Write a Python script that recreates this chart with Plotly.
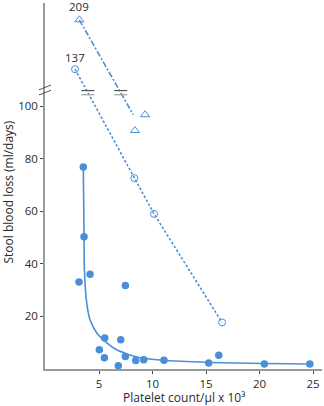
import numpy as np
import plotly.graph_objects as go

# ---------------- data ----------------
# filled dots (solid curve series)
dot_x = [3.53, 3.60, 3.13, 4.16, 7.46, 5.53, 7.03, 5.03, 5.50, 7.46, 6.80, 8.43, 9.18, 11.07, 15.25, 16.19, 20.45, 24.70]
dot_y = [76.8, 50.3, 33.1, 36.0, 31.8, 11.8, 11.1, 7.3, 4.3, 4.8, 1.25, 3.2, 3.5, 3.3, 2.3, 5.2, 1.9, 1.9]
# fitted hyperbolic curve
curve_x = [3.53, 3.60, 3.63, 3.85, 4.16, 4.79, 5.56, 6.65, 8.52, 11.0, 15.25, 20.45, 24.70]
curve_y = [76.8, 50.3, 37.8, 25.1, 18.7, 13.7, 10.5, 7.3, 4.6, 3.3, 2.5, 2.1, 1.9]
# open circles (dotted line)
circle_x = [2.76, 8.30, 10.14, 16.50]
circle_y = [137, 72.6, 59.0, 17.7]
# open triangles (dash-dot fit line)
tri_x = [3.16, 8.36, 9.30]
tri_y = [209, 90.7, 96.7]
tri_fit_x = [3.16, 8.20]
tri_fit_y = [209, 96.7]
x_ticks = [5, 10, 15, 20, 25]
y_ticks = [20, 40, 60, 80, 100]
labelled = [(circle_x[0], circle_y[0]), (tri_x[0], tri_y[0])]

# ---------------- broken-axis mapping ----------------
BREAK = 100
BREAK_MARK = 105.1


def disp(v):
    return v if v <= BREAK else BREAK + 44.5 * np.log(v / BREAK)


def dlist(vs):
    return [disp(v) for v in vs]


BLUE = "#4a8fd6"
TXT = "#2b2b2b"
FONT = "Open Sans"

L, R, T, B = 45, 2, 3, 37
W, H = 324, 406
XR = [-0.05, 25.84]
YR = [0, 139.2]

fig = go.Figure()

# solid fitted curve
fig.add_trace(go.Scatter(x=curve_x, y=curve_y, mode="lines",
                         line=dict(color=BLUE, width=1.6, shape="spline", smoothing=0.6),
                         hoverinfo="skip"))
# dotted circles
fig.add_trace(go.Scatter(x=circle_x, y=dlist(circle_y), mode="lines+markers",
                         line=dict(color=BLUE, width=1.6, dash="2.5px,2px"),
                         marker=dict(symbol="circle-open", size=7, color=BLUE, line=dict(width=1))))
# dash-dot fit line for triangles
fig.add_trace(go.Scatter(x=tri_fit_x, y=dlist(tri_fit_y), mode="lines",
                         line=dict(color=BLUE, width=1.6, dash="6px,2px,2px,2px")))
fig.add_trace(go.Scatter(x=tri_x, y=dlist(tri_y), mode="markers",
                         marker=dict(symbol="triangle-up-open", size=8, color=BLUE, line=dict(width=1))))
# filled dots
fig.add_trace(go.Scatter(x=dot_x, y=dot_y, mode="markers",
                         marker=dict(symbol="circle", size=7.5, color=BLUE, line=dict(width=0))))

# labels for off-scale values
for (lx, ly), ys in zip(labelled, [11.5, 13.5]):
    fig.add_annotation(x=lx, y=disp(ly), text=str(ly), showarrow=False, yshift=ys,
                       font=dict(family=FONT, size=11.5, color=TXT))


def cross_x(xs, ys, level):
    yd = dlist(ys)
    for i in range(len(xs) - 1):
        if (yd[i] - level) * (yd[i + 1] - level) <= 0:
            t = (yd[i] - level) / (yd[i] - yd[i + 1])
            return xs[i] + t * (xs[i + 1] - xs[i])
    return xs[0]


shapes = []
px_per_x = (W - L - R) / (XR[1] - XR[0])
# "=" break marks on the two lines
for cx in [cross_x(circle_x, circle_y, BREAK_MARK), cross_x(tri_fit_x, tri_fit_y, BREAK_MARK)]:
    hw = 6.5 / px_per_x
    shapes.append(dict(type="line", xref="x", yref="y", x0=cx - hw, x1=cx + hw,
                       y0=BREAK_MARK + 0.8, y1=BREAK_MARK + 0.8, line=dict(color="#555555", width=1.2)))
    shapes.append(dict(type="line", xref="x", yref="y", x0=cx - hw, x1=cx + hw,
                       y0=BREAK_MARK - 0.8, y1=BREAK_MARK - 0.8, line=dict(color="#a0a0a0", width=1.2)))


# "//" break mark on the y axis (paper coords)
def py(v):
    return (v - YR[0]) / (YR[1] - YR[0])


dxp = 6.0 / (W - L - R)
for off in [1.0, -1.0]:
    yc = BREAK_MARK + off + 1.0
    shapes.append(dict(type="line", xref="paper", yref="paper",
                       x0=-dxp, x1=dxp, y0=py(yc - 0.9), y1=py(yc + 0.9),
                       line=dict(color="#555555", width=1)))

fig.update_layout(
    width=W, height=H, margin=dict(l=L, r=R, t=T, b=B),
    paper_bgcolor="white", plot_bgcolor="white", showlegend=False,
    font=dict(family=FONT, size=11.5, color=TXT),
    shapes=shapes,
    xaxis=dict(range=XR, tickvals=x_ticks, ticks="outside", ticklen=3, tickwidth=1,
               tickcolor="#444", showline=True, linecolor="#999999", linewidth=1.5,
               showgrid=False, zeroline=False, tickfont=dict(size=11.5, color=TXT),
               ticklabelstandoff=0),
    yaxis=dict(range=YR, tickvals=y_ticks, ticks="outside", ticklen=3, tickwidth=1,
               tickcolor="#444", showline=True, linecolor="#999999", linewidth=1.5,
               showgrid=False, zeroline=False, tickfont=dict(size=11.5, color=TXT)),
)

fig.add_annotation(xref="paper", yref="paper", x=0.5, y=(369 - 397) / 366.0,
                   text="Platelet count/µl x 10³", showarrow=False,
                   xanchor="center", yanchor="middle", font=dict(family=FONT, size=12, color=TXT))
fig.add_annotation(xref="paper", yref="paper", x=(7.5 - L) / (W - L - R), y=(369 - 192) / 366.0,
                   text="Stool blood loss (ml/days)", showarrow=False, textangle=-90,
                   xanchor="center", yanchor="middle", font=dict(family=FONT, size=12, color=TXT))

fig.write_html("out.html")
